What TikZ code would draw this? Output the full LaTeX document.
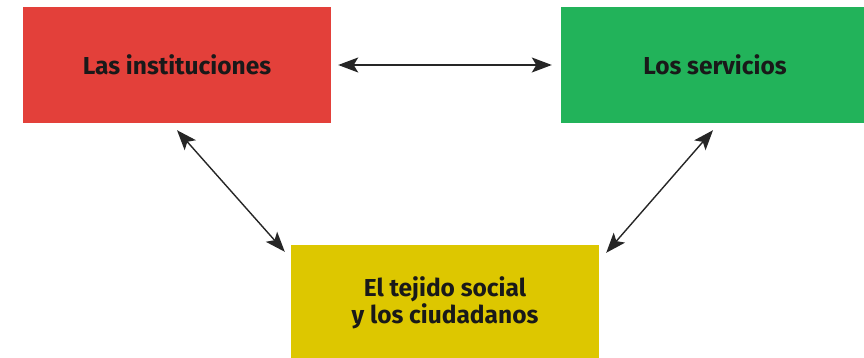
\documentclass[tikz,border=0pt]{standalone}
\usepackage{fontspec}
\setmainfont{Fira Sans}
\usepackage{xcolor}
\usetikzlibrary{positioning,arrows.meta}
\definecolor{rojo}{HTML}{E3403A}
\definecolor{verde}{HTML}{22B35A}
\definecolor{amarillo}{HTML}{DDC700}

\begin{document}
\begin{tikzpicture}[x=1pt,y=1pt,
    box/.style={fill=#1,minimum width=308pt,minimum height=116pt,inner sep=0pt,
        align=center,font=\fontsize{24.5}{27}\selectfont\bfseries,text=black!90},
    link/.style={line width=1.4pt,black!85,{Stealth[length=20pt,width=15pt,inset=4.5pt]}-{Stealth[length=20pt,width=15pt,inset=4.5pt]}}]
            % frame
            \useasboundingbox (0,0) rectangle (864,358);
            % boxes
            \node[box=rojo] (inst) at (177,293) {Las instituciones};
            \node[box=verde] (serv) at (715,293) {Los servicios};
            \node[box=amarillo] (tejido) at (445,55) {El tejido social\\y los ciudadanos};
            % links
            \draw[link,shorten <=7pt,shorten >=9pt] (inst.east)--(serv.west);
            \draw[link] ([yshift=-7pt]inst.south)--([xshift=-6pt,yshift=-7pt]tejido.north west);
            \draw[link] ([xshift=-2pt,yshift=-7pt]serv.south)--([xshift=7pt,yshift=-8pt]tejido.north east);
\end{tikzpicture}
\end{document}
